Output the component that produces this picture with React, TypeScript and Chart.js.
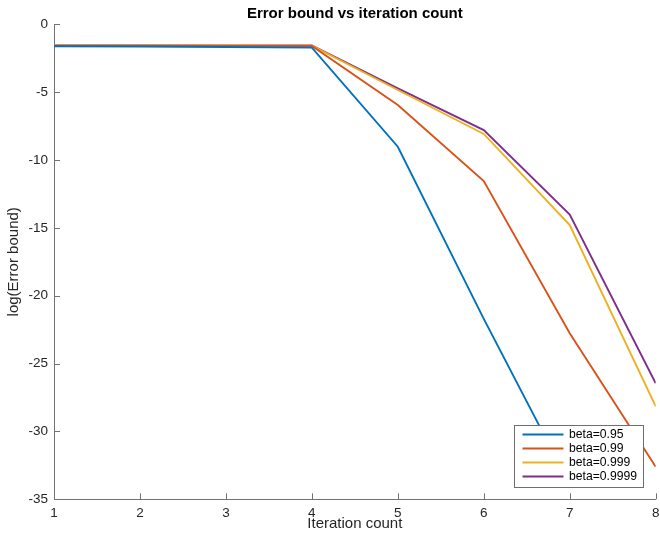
import React, { useEffect, useRef } from "react";
import { Chart, registerables } from "chart.js";

Chart.register(...registerables);

const iterations = [1, 2, 3, 4, 5, 6, 7, 8];
const seriesLabels = ["beta=0.95", "beta=0.99", "beta=0.999", "beta=0.9999"];
const beta095 = [-1.62, -1.64, -1.67, -1.72, -9.02, -21.7, -33.9, null];
const beta099 = [-1.57, -1.58, -1.59, -1.6, -5.95, -11.55, -22.77, -32.6];
const beta0999 = [-1.55, -1.55, -1.56, -1.57, -4.84, -8.08, -14.79, -28.15];
const beta09999 = [-1.55, -1.55, -1.55, -1.55, -4.72, -7.79, -14.02, -26.45];
const seriesColors = ["#0072BD", "#D95319", "#EDB120", "#7E2F8E"];
const yTicks = [0, -5, -10, -15, -20, -25, -30, -35];

const FONT = "'Liberation Sans', Arial, Helvetica, sans-serif";
const AXIS_COLOR = "#737373";
const TEXT_COLOR = "#262626";

const matlabPlugin = {
  id: "matlabDecor",
  afterLayout(chart: any) {
    const ca = chart.chartArea;
    if (chart.titleBlock) {
      chart.titleBlock.left = ca.left;
      chart.titleBlock.right = ca.right;
      chart.titleBlock.width = ca.right - ca.left;
    }
  },
  afterDraw(chart: any) {
    const { ctx, chartArea } = chart;
    const xs = chart.scales.x;
    const ys = chart.scales.y;
    ctx.save();
    // inward ticks
    ctx.strokeStyle = AXIS_COLOR;
    ctx.lineWidth = 1;
    ctx.beginPath();
    xs.ticks.forEach((_t: any, i: number) => {
      const px = Math.round(xs.getPixelForTick(i)) + 0.5;
      ctx.moveTo(px, chartArea.bottom);
      ctx.lineTo(px, chartArea.bottom - 6);
    });
    ys.ticks.forEach((_t: any, i: number) => {
      const py = Math.round(ys.getPixelForTick(i)) + 0.5;
      ctx.moveTo(chartArea.left, py);
      ctx.lineTo(chartArea.left + 6, py);
    });
    ctx.stroke();

    // legend box
    const w = 129;
    const h = 62;
    const right = chartArea.right - 13;
    const bottom = chartArea.bottom - 12;
    const left = Math.round(right - w);
    const top = Math.round(bottom - h);
    ctx.fillStyle = "#ffffff";
    ctx.fillRect(left, top, w, h);
    ctx.strokeStyle = "#6e6e6e";
    ctx.lineWidth = 1;
    ctx.strokeRect(left + 0.5, top + 0.5, w, h);
    ctx.font = `12.2px ${FONT}`;
    ctx.textBaseline = "middle";
    ctx.textAlign = "left";
    chart.data.datasets.forEach((ds: any, i: number) => {
      const y = top + 9.5 + i * 14;
      ctx.strokeStyle = ds.borderColor;
      ctx.lineWidth = 2;
      ctx.beginPath();
      ctx.moveTo(left + 8.5, y);
      ctx.lineTo(left + 49.5, y);
      ctx.stroke();
      ctx.fillStyle = "#000000";
      ctx.fillText(ds.label, left + 55, y + 0.5);
    });
    ctx.restore();
  },
};

export default function App() {
  const ref = useRef<HTMLCanvasElement | null>(null);

  useEffect(() => {
    if (!ref.current) return;
    const seriesValues = [beta095, beta099, beta0999, beta09999];
    const chart = new Chart(ref.current, {
      type: "line",
      data: {
        datasets: seriesValues.map((vals, k) => ({
          label: seriesLabels[k],
          data: iterations.map((x, i) => ({ x, y: vals[i] })),
          borderColor: seriesColors[k],
          backgroundColor: seriesColors[k],
          borderWidth: 1.9,
          pointRadius: 0,
          fill: false,
          tension: 0,
          spanGaps: false,
        })),
      },
      options: {
        responsive: false,
        animation: false,
        devicePixelRatio: 1,
        layout: { padding: { left: 0, right: 4.3, top: 0, bottom: 0 } },
        plugins: {
          legend: { display: false },
          tooltip: { enabled: false },
          title: {
            display: true,
            text: "Error bound vs iteration count",
            color: "#000000",
            font: { family: FONT, size: 15, weight: "bold" },
            padding: { top: 5, bottom: 1.3 },
          },
        },
        scales: {
          x: {
            type: "linear",
            min: 1,
            max: 8,
            afterFit: (scale: any) => {
              scale.height = 36.7;
              scale.paddingLeft = 0;
              scale.paddingRight = 0;
            },
            ticks: {
              stepSize: 1,
              color: TEXT_COLOR,
              padding: 6,
              font: { family: FONT, size: 13.5 },
            },
            grid: { display: false, drawTicks: false },
            border: { display: true, color: AXIS_COLOR, width: 1 },
            title: {
              display: true,
              text: "Iteration count",
              color: TEXT_COLOR,
              font: { family: FONT, size: 15 },
              padding: { top: 0, bottom: 3.5 },
            },
          },
          y: {
            type: "linear",
            min: -35,
            max: 0,
            afterFit: (scale: any) => {
              scale.width = 54;
              scale.paddingTop = 0;
              scale.paddingBottom = 0;
            },
            afterBuildTicks: (scale: any) => {
              scale.ticks = yTicks.map((v) => ({ value: v }));
            },
            ticks: {
              color: TEXT_COLOR,
              padding: 6,
              font: { family: FONT, size: 13.5 },
            },
            grid: { display: false, drawTicks: false },
            border: { display: true, color: AXIS_COLOR, width: 1 },
            title: {
              display: true,
              text: "log(Error bound)",
              color: TEXT_COLOR,
              font: { family: FONT, size: 15 },
              padding: { top: 5, bottom: 0 },
            },
          },
        },
      },
      plugins: [matlabPlugin],
    } as any);
    return () => chart.destroy();
  }, []);

  return (
    <div style={{ position: "fixed", left: 0, top: 0, width: 660, height: 536, background: "#ffffff" }}>
      <canvas ref={ref} width={660} height={536} />
    </div>
  );
}
